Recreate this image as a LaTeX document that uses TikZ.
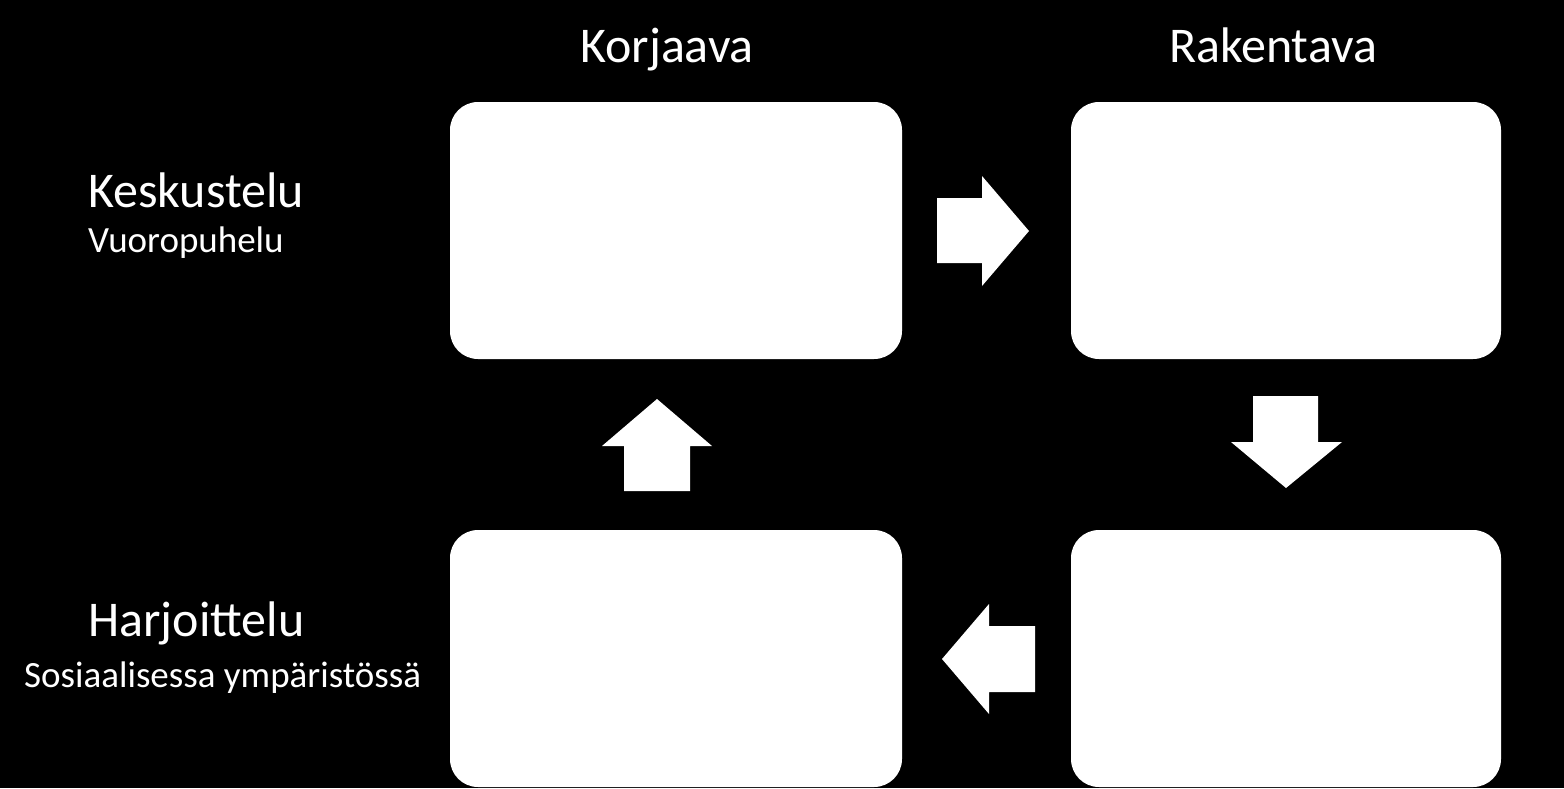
\documentclass[tikz,border=0pt]{standalone}
\usepackage{fontspec}
\setmainfont{Carlito}
\begin{document}
\begin{tikzpicture}[x=1pt,y=-1pt,
  box/.style={fill=white,rounded corners=28pt},
  arr/.style={fill=white},
  big/.style={text=white,inner sep=0pt,font=\fontsize{50}{60}\selectfont},
  small/.style={text=white,inner sep=0pt,font=\fontsize{37}{44}\selectfont}]
\fill[black] (0,0) rectangle (1564,788);
\useasboundingbox (0,0) rectangle (1564,788);
% boxes
\path[box] (450,102) rectangle (902,359);
\node[inner sep=0pt] (b1) at (676,230) {};
\path[box] (1071,102) rectangle (1501,359);
\node[inner sep=0pt] (b2) at (1286,230) {};
\path[box] (450,530) rectangle (902,787);
\node[inner sep=0pt] (b3) at (676,658) {};
\path[box] (1071,530) rectangle (1501,787);
\node[inner sep=0pt] (b4) at (1286,658) {};
% arrows
\path[arr] (937,198) -- (982,198) -- (982,176) -- (1029,231) -- (982,286) -- (982,263) -- (937,263) -- cycle;
\path[arr] (1253,396) -- (1318,396) -- (1318,442) -- (1342,442) -- (1286,488) -- (1231,442) -- (1253,442) -- cycle;
\path[arr] (1035,626) -- (989,626) -- (989,604) -- (942,659) -- (989,714) -- (989,692) -- (1035,692) -- cycle;
\path[arr] (624,491) -- (624,446) -- (602,446) -- (657,399) -- (712,446) -- (690,446) -- (690,491) -- cycle;
% labels
\node[big,anchor=base] (korj) at (667,62) {Korjaava};
\node[big,anchor=base] (rak) at (1273,62) {Rakentava};
\node[big,anchor=base west] (kesk) at (88,207) {Keskustelu};
\node[small,anchor=base west] (vuor) at (88,252) {Vuoropuhelu};
\node[big,anchor=base west] (harj) at (88,636) {Harjoittelu};
\node[small,anchor=base west] (sos) at (24,687) {Sosiaalisessa ympäristössä};
\end{tikzpicture}
\end{document}
